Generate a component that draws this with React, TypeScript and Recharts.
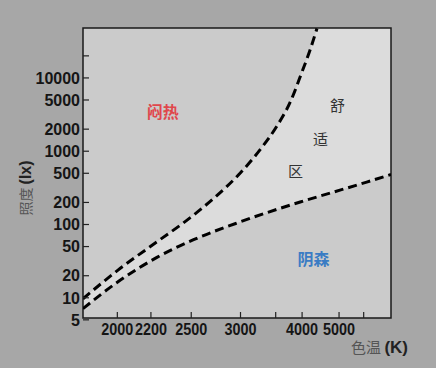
import React from "react";
import {
  ComposedChart,
  Line,
  Area,
  XAxis,
  YAxis,
  CartesianGrid,
  ReferenceArea,
  ReferenceDot,
} from "recharts";

// ---- data ----
const UPPER_TEMP = [1830, 2000, 2240, 2460, 2700, 3000, 3260, 3520, 3760, 3990, 4180, 4350];
const UPPER_LUX = [9.7, 23.5, 58, 113, 224, 508, 1050, 2200, 4700, 11700, 24000, 47300];

const LOWER_TEMP = [1830, 2000, 2240, 2520, 3000, 3960, 4820, 6150, 7710];
const LOWER_LUX = [7.1, 16.3, 35.6, 62, 109, 203, 277, 379, 482];

const X_TICK_TEMPS = [2000, 2200, 2500, 3000, 3500, 4000, 5000, 6000];
const X_LABELED = [2000, 2200, 2500, 3000, 4000, 5000];
const Y_TICKS = [5, 10, 20, 50, 100, 200, 500, 1000, 2000, 5000, 10000, 20000];
const Y_LABELED = [5, 10, 20, 50, 100, 200, 500, 1000, 2000, 5000, 10000];

const T_MIN = 1830;
const T_MAX = 7710;
const Y_MIN = 5.3;
const Y_MAX = 48000;

const REGION_TEXT = ["闷热", "舒", "适", "区", "阴森"];
const REGION_TEMP = [2280, 4950, 4444, 3864, 4265];
const REGION_LUX = [3350, 4240, 1440, 521, 33.8];
const REGION_COLOR = ["#e0474c", "#333333", "#333333", "#333333", "#3a7cc4"];
const REGION_BOLD = [true, false, false, false, true];

// ---- helpers ----
const mired = (t: number) => 1e6 / t;

const upperData = UPPER_TEMP.map((t, i) => ({ m: mired(t), v: UPPER_LUX[i], band: [UPPER_LUX[i], Y_MAX] }));
const lowerData = LOWER_TEMP.map((t, i) => ({ m: mired(t), v: LOWER_LUX[i], band: [Y_MIN, LOWER_LUX[i]] }));

const X_DOMAIN = [mired(T_MAX), mired(T_MIN)];
const X_TICKS = X_TICK_TEMPS.map(mired);

const TICK_FONT = "'Liberation Sans', Arial, sans-serif";

const XTick = (props: any) => {
  const { x, y, payload } = props;
  const t = Math.round(1e6 / payload.value);
  const show = X_LABELED.includes(t);
  return (
    <g>
      <line x1={x} x2={x} y1={y} y2={y - 6} stroke="#222" strokeWidth={1.2} />
      {show && (
        <text
          x={x}
          y={y + 17}
          textAnchor="middle"
          fontFamily={TICK_FONT}
          fontWeight="bold"
          fontSize={16}
          fill="#151515"
          textLength={32}
          lengthAdjust="spacingAndGlyphs"
        >
          {t}
        </text>
      )}
    </g>
  );
};

const YTick = (props: any) => {
  const { x, y, payload } = props;
  const v = payload.value;
  const show = Y_LABELED.includes(v);
  const ax = x + 3;
  return (
    <g>
      <line x1={ax} x2={ax + 6} y1={y} y2={y} stroke="#222" strokeWidth={1.2} />
      {show && (
        <text x={x} y={y} dy="0.36em" textAnchor="end" fontFamily={TICK_FONT} fontWeight="bold" fontSize={16} fill="#151515">
          {v}
        </text>
      )}
    </g>
  );
};

const makeRegionLabel = (i: number) => (p: any) => {
  const vb = p.viewBox || {};
  const cx = vb.x + (vb.width || 0) / 2;
  const cy = vb.y + (vb.height || 0) / 2;
  return (
    <text
      x={cx}
      y={cy}
      dy="0.36em"
      textAnchor="middle"
      fontFamily="'Noto Sans CJK SC', sans-serif"
      fontWeight={REGION_BOLD[i] ? "bold" : "normal"}
      fontSize={REGION_BOLD[i] ? 16 : 15}
      fill={REGION_COLOR[i]}
    >
      {REGION_TEXT[i]}
    </text>
  );
};

export default function App() {
  return (
    <div style={{ position: "absolute", left: 0, top: 0, width: 436, height: 368, background: "#a7a7a7", overflow: "hidden" }}>
      <ComposedChart width={436} height={368} margin={{ top: 28, right: 45, left: 0, bottom: 20 }}>
        <CartesianGrid fill="#dcdcdc" horizontal={false} vertical={false} stroke="none" />
        <XAxis
          type="number"
          dataKey="m"
          domain={X_DOMAIN}
          reversed
          allowDataOverflow
          ticks={X_TICKS}
          interval={0}
          tick={<XTick />}
          tickLine={false}
          axisLine={false}
          tickSize={0}
          tickMargin={0}
          height={30}
        />
        <YAxis
          type="number"
          scale="log"
          domain={[Y_MIN, Y_MAX]}
          allowDataOverflow
          ticks={Y_TICKS}
          interval={0}
          tick={<YTick />}
          tickLine={false}
          axisLine={false}
          tickSize={0}
          tickMargin={3}
          width={83}
        />
        <Area
          data={upperData}
          dataKey="band"
          type="monotone"
          fill="#cbcbcb"
          fillOpacity={1}
          stroke="none"
          isAnimationActive={false}
        />
        <Area
          data={lowerData}
          dataKey="band"
          type="monotone"
          fill="#cbcbcb"
          fillOpacity={1}
          stroke="none"
          isAnimationActive={false}
        />
        <Line
          data={upperData}
          dataKey="v"
          type="monotone"
          stroke="#000"
          strokeWidth={3}
          strokeDasharray="9 5"
          dot={false}
          isAnimationActive={false}
        />
        <Line
          data={lowerData}
          dataKey="v"
          type="monotone"
          stroke="#000"
          strokeWidth={3}
          strokeDasharray="9 5"
          dot={false}
          isAnimationActive={false}
        />
        {REGION_TEXT.map((_, i) => (
          <ReferenceDot
            key={i}
            x={mired(REGION_TEMP[i])}
            y={REGION_LUX[i]}
            r={0}
            fill="none"
            stroke="none"
            label={makeRegionLabel(i)}
          />
        ))}
        <ReferenceArea
          x1={X_DOMAIN[0]}
          x2={X_DOMAIN[1]}
          y1={Y_MIN}
          y2={Y_MAX}
          fill="none"
          stroke="#1a1a1a"
          strokeWidth={1.5}
          fillOpacity={0}
          strokeOpacity={1}
        />
      </ComposedChart>
      <svg width={436} height={368} style={{ position: "absolute", left: 0, top: 0, pointerEvents: "none" }}>
        <text transform="translate(31,188) rotate(-90)" textAnchor="middle">
          <tspan fontFamily="'Noto Sans CJK SC', sans-serif" fontSize={14} fill="#555">照度 </tspan>
          <tspan fontFamily={TICK_FONT} fontWeight="bold" fontSize={16} fill="#222">(lx)</tspan>
        </text>
        <text x={408} y={353} textAnchor="end">
          <tspan fontFamily="'Noto Sans CJK SC', sans-serif" fontSize={15} fill="#555">色温 </tspan>
          <tspan fontFamily={TICK_FONT} fontWeight="bold" fontSize={17} fill="#222">(K)</tspan>
        </text>
      </svg>
    </div>
  );
}
